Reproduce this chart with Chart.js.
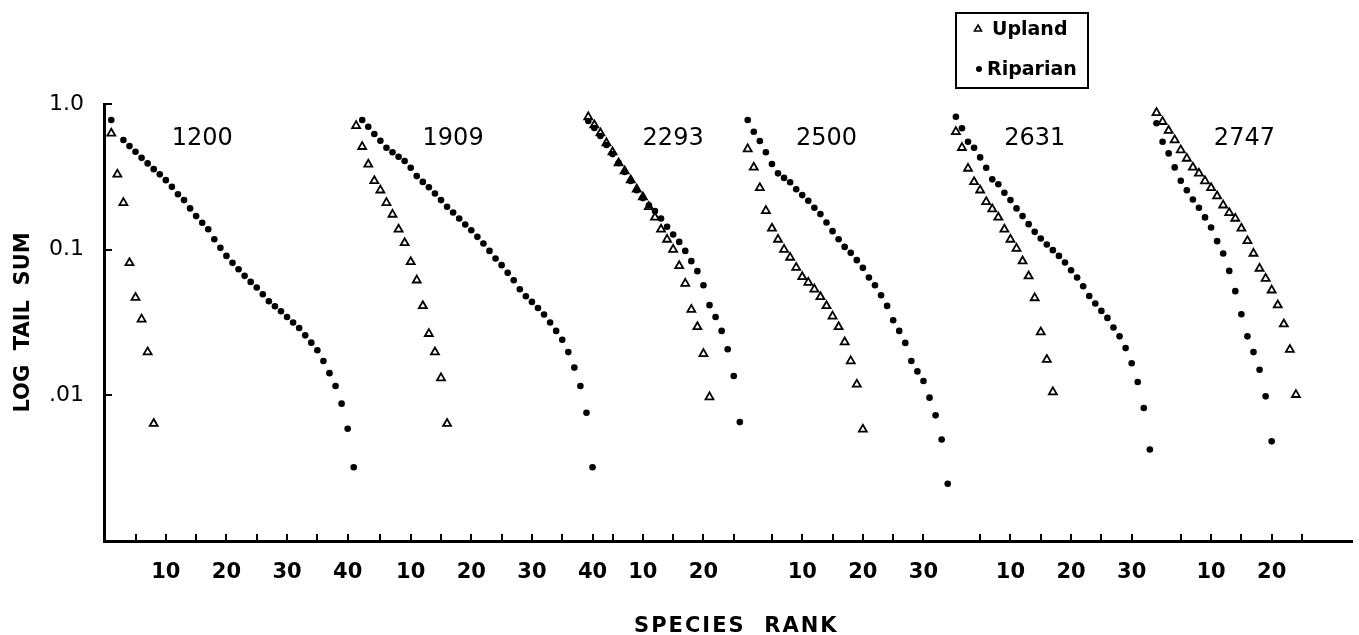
<!DOCTYPE html>
<html lang="en">
<head>
<meta charset="utf-8" />
<title>Log tail sum by species rank</title>
<script src="https://cdn.jsdelivr.net/npm/chart.js"></script>
<style>
    html, body { margin: 0; padding: 0; background: #fff; }
    #wrap { position: relative; width: 1359px; height: 635px; }
</style>
</head>
<body>
<div id="wrap"><canvas id="tailChart"></canvas></div>
<script>
    // site elevations, one panel each
    const sites = ['1200', '1909', '2293', '2500', '2631', '2747'];

    // log tail sum by species rank (rank 1 first), null = no point drawn
    const upland = [
        [0.629, 0.329, 0.210, 0.0812, 0.0469, 0.0333, 0.0198, 0.00639],
        [0.709, 0.509, 0.385, 0.297, 0.256, 0.210, 0.1745, 0.138, 0.1113, 0.0824, 0.0617, 0.0411, 0.0265, 0.0198, 0.01315, 0.00639],
        [0.814, 0.717, 0.632, 0.540, 0.468, 0.393, 0.346, 0.300, 0.260, 0.2295, 0.197, 0.1665, 0.138, 0.1175, 0.1003, 0.0774, 0.0586, 0.0388, 0.0295, 0.0193, 0.00974],
        [0.491, 0.367, 0.266, 0.185, 0.140, 0.1175, 0.1003, 0.0884, 0.0754, 0.0650, 0.0595, 0.0535, 0.0474, 0.0411, 0.0349, 0.0295, 0.0232, 0.0172, 0.0119, 0.00584],
        [0.645, 0.501, 0.361, 0.292, 0.256, 0.213, 0.190, 0.1665, 0.138, 0.1175, 0.1019, 0.0834, 0.0658, 0.0466, 0.0272, 0.0176, 0.01054],
        [0.871, 0.756, 0.656, 0.566, 0.483, 0.423, 0.367, 0.334, 0.296, 0.266, 0.233, 0.202, 0.179, 0.1638, 0.140, 0.1149, 0.0942, 0.0743, 0.0634, 0.0527, 0.0416, 0.0308, 0.0206, 0.0101]
    ];
    const riparian = [
        [0.776, null, 0.566, 0.514, 0.470, 0.427, 0.391, 0.357, 0.329, 0.300, 0.270, 0.240, 0.219, 0.192, 0.170, 0.153, 0.138, 0.118, 0.1029, 0.0906, 0.0812, 0.0734, 0.0661, 0.0601, 0.0550, 0.0494, 0.0442, 0.0409, 0.0378, 0.0345, 0.0316, 0.0290, 0.0258, 0.0230, 0.0204, 0.0172, 0.0142, 0.0116, 0.00877, 0.00590, 0.00321],
        [null, 0.776, 0.698, 0.622, 0.560, 0.501, 0.466, 0.434, 0.406, 0.365, 0.320, 0.292, 0.268, 0.243, 0.219, 0.197, 0.180, 0.1638, 0.149, 0.136, 0.1225, 0.1103, 0.0981, 0.0870, 0.0783, 0.0693, 0.0617, 0.0535, 0.0479, 0.0438, 0.0398, 0.0359, 0.0316, 0.0277, 0.0241, 0.0198, 0.0155, 0.0116, 0.00760, 0.00321],
        [0.764, 0.684, 0.603, 0.523, 0.453, 0.393, 0.341, 0.296, 0.256, 0.226, 0.202, 0.184, 0.1638, 0.1435, 0.1272, 0.1131, 0.0981, 0.0834, 0.0712, 0.0570, 0.0416, 0.0345, 0.0277, 0.0207, 0.01357, 0.00655],
        [0.776, 0.645, 0.557, 0.466, 0.387, 0.334, 0.311, 0.290, 0.260, 0.237, 0.2165, 0.194, 0.1754, 0.1538, 0.134, 0.118, 0.1045, 0.0951, 0.0847, 0.0750, 0.0644, 0.0570, 0.0487, 0.0411, 0.0328, 0.0277, 0.0229, 0.0172, 0.0146, 0.01254, 0.00964, 0.00729, 0.00498, 0.00247],
        [0.818, 0.681, 0.551, 0.501, 0.430, 0.365, 0.304, 0.281, 0.246, 0.219, 0.192, 0.170, 0.1497, 0.1325, 0.1194, 0.1086, 0.0992, 0.0906, 0.0817, 0.0723, 0.0644, 0.0561, 0.0481, 0.0427, 0.0380, 0.0340, 0.0292, 0.0254, 0.0211, 0.0166, 0.01234, 0.00818, 0.00425],
        [0.737, 0.551, 0.458, 0.367, 0.297, 0.256, 0.221, 0.194, 0.1665, 0.142, 0.1144, 0.0942, 0.0715, 0.0519, 0.0360, 0.0254, 0.0198, 0.0150, 0.00984, 0.00483]
    ];

    // rank 0 of each panel on the shared x axis, and the last rank tick drawn
    const siteStart = [0.2, 40.6, 78.9, 105.2, 139.55, 172.65];
    const siteTickMax = [40, 40, 25, 30, 30, 25];
    const titleRank = [16, 17, 15, 14, 14, 15.5];

    const yTicks = [1, 0.1, 0.01];
    const yTickText = ['1.0', '0.1', '.01'];

    const FONT = '"DejaVu Sans", sans-serif';

    function toPoints(series) {
        const pts = [];
        series.forEach((vals, s) => {
            vals.forEach((v, i) => {
                if (v !== null) pts.push({ x: siteStart[s] + i + 1, y: v });
            });
        });
        return pts;
    }

    const xTickVals = [];
    const xTickText = [];
    siteTickMax.forEach((max, s) => {
        for (let r = 5; r <= max; r += 5) {
            xTickVals.push(siteStart[s] + r);
            xTickText.push(r % 10 === 0 ? String(r) : '');
        }
    });

    // inward tick marks, panel names, x title and the boxed key
    const decor = {
        id: 'decor',
        afterDraw(chart) {
            const { ctx, scales: { x, y }, chartArea } = chart;
            ctx.save();
            ctx.strokeStyle = '#000';
            ctx.fillStyle = '#000';
            ctx.lineWidth = 2;
            ctx.beginPath();
            xTickVals.forEach(v => {
                const px = Math.round(x.getPixelForValue(v));
                ctx.moveTo(px, chartArea.bottom);
                ctx.lineTo(px, chartArea.bottom - 7);
            });
            yTicks.forEach(v => {
                const py = Math.round(y.getPixelForValue(v));
                ctx.moveTo(chartArea.left, py);
                ctx.lineTo(chartArea.left + 8, py);
            });
            ctx.stroke();

            ctx.font = '24px ' + FONT;
            ctx.textAlign = 'center';
            ctx.textBaseline = 'middle';
            sites.forEach((name, s) => {
                ctx.fillText(name, x.getPixelForValue(siteStart[s] + titleRank[s]), y.getPixelForValue(0.575));
            });

            ctx.font = 'bold 21px ' + FONT;
            ctx.letterSpacing = '2px';
            ctx.fillText('SPECIES  RANK', (chartArea.left + chartArea.right) / 2 + 8, chartArea.bottom + 86);
            ctx.letterSpacing = '0px';

            // key
            ctx.lineWidth = 2;
            ctx.strokeRect(956, 13, 132, 75);
            ctx.lineWidth = 1.6;
            ctx.beginPath();
            ctx.moveTo(978, 25);
            ctx.lineTo(981.5, 31);
            ctx.lineTo(974.5, 31);
            ctx.closePath();
            ctx.stroke();
            ctx.beginPath();
            ctx.arc(979, 69, 3, 0, Math.PI * 2);
            ctx.fill();
            ctx.font = 'bold 19px ' + FONT;
            ctx.textAlign = 'left';
            ctx.fillText('Upland', 992, 30);
            ctx.fillText('Riparian', 987, 70);
            ctx.restore();
        }
    };

    new Chart(document.getElementById('tailChart'), {
        type: 'scatter',
        data: {
            datasets: [
                {
                    label: 'Upland',
                    data: toPoints(upland),
                    pointStyle: 'triangle',
                    pointRadius: 4.6,
                    pointBorderWidth: 1.8,
                    pointBorderColor: '#000',
                    pointBackgroundColor: 'rgba(0,0,0,0)'
                },
                {
                    label: 'Riparian',
                    data: toPoints(riparian),
                    pointStyle: 'circle',
                    pointRadius: 3.3,
                    pointBorderWidth: 0,
                    pointBackgroundColor: '#000'
                }
            ]
        },
        options: {
            responsive: true,
            maintainAspectRatio: false,
            animation: false,
            layout: { padding: { top: 104, right: 2, left: 0, bottom: 0 } },
            plugins: {
                legend: { display: false },
                tooltip: { enabled: false }
            },
            scales: {
                x: {
                    type: 'linear',
                    min: 0,
                    max: 206,
                    grid: { display: false, drawTicks: false },
                    border: { display: true, color: '#000', width: 3 },
                    afterBuildTicks: axis => { axis.ticks = xTickVals.map(v => ({ value: v })); },
                    afterFit: axis => { axis.height = 94; },
                    ticks: {
                        autoSkip: false,
                        maxRotation: 0,
                        padding: 19,
                        color: '#000',
                        font: { family: FONT, size: 21, weight: 'bold' },
                        callback: (v, i) => xTickText[i]
                    }
                },
                y: {
                    type: 'logarithmic',
                    min: 0.001,
                    max: 1,
                    grid: { display: false, drawTicks: false },
                    border: { display: true, color: '#000', width: 3 },
                    afterBuildTicks: axis => { axis.ticks = yTicks.map(v => ({ value: v })); },
                    afterFit: axis => { axis.width = 104; },
                    ticks: {
                        padding: 20,
                        color: '#000',
                        font: { family: FONT, size: 22 },
                        callback: (v, i) => yTickText[i]
                    },
                    title: {
                        display: true,
                        text: 'LOG  TAIL  SUM',
                        color: '#000',
                        font: { family: FONT, size: 21, weight: 'bold' },
                        padding: { top: 11, bottom: 0 }
                    }
                }
            }
        },
        plugins: [decor]
    });
</script>
</body>
</html>
